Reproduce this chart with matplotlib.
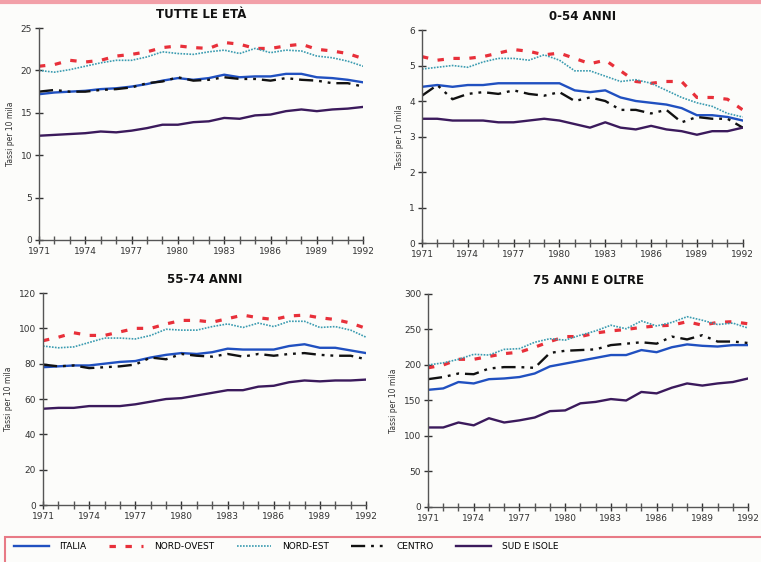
import numpy as np
import matplotlib
matplotlib.use('Agg')
import matplotlib.pyplot as plt
from matplotlib.lines import Line2D
from matplotlib.patches import Rectangle

years = np.arange(1971, 1993)
series_names = ['ITALIA', 'NORD-OVEST', 'NORD-EST', 'CENTRO', 'SUD E ISOLE']

# TUTTE LE ETA'
tutte = {
    'ITALIA': [17.2, 17.4, 17.5, 17.6, 17.8, 17.9, 18.1, 18.4, 18.8, 19.1, 18.9,
               19.1, 19.5, 19.2, 19.3, 19.3, 19.6, 19.6, 19.2, 19.1, 18.9, 18.6],
    'NORD-OVEST': [20.5, 20.7, 21.2, 21.0, 21.2, 21.7, 21.9, 22.2, 22.7, 22.9, 22.7,
                   22.6, 23.3, 23.1, 22.6, 22.6, 22.9, 23.1, 22.5, 22.3, 22.0, 21.4],
    'NORD-EST': [20.0, 19.8, 20.1, 20.5, 20.9, 21.2, 21.2, 21.6, 22.2, 22.0, 21.9,
                 22.2, 22.4, 22.0, 22.6, 22.1, 22.4, 22.3, 21.7, 21.5, 21.1, 20.5],
    'CENTRO': [17.5, 17.7, 17.5, 17.5, 17.7, 17.8, 18.0, 18.5, 18.7, 19.2, 18.8,
               18.9, 19.2, 19.0, 19.0, 18.8, 19.1, 18.9, 18.8, 18.5, 18.5, 18.1],
    'SUD E ISOLE': [12.3, 12.4, 12.5, 12.6, 12.8, 12.7, 12.9, 13.2, 13.6, 13.6, 13.9,
                    14.0, 14.4, 14.3, 14.7, 14.8, 15.2, 15.4, 15.2, 15.4, 15.5, 15.7],
}

# 0-54 ANNI
anni_0_54 = {
    'ITALIA': [4.4, 4.45, 4.4, 4.45, 4.45, 4.5, 4.5, 4.5, 4.5, 4.5, 4.3,
               4.25, 4.3, 4.1, 4.0, 3.95, 3.9, 3.8, 3.6, 3.6, 3.55, 3.45],
    'NORD-OVEST': [5.25, 5.15, 5.2, 5.2, 5.25, 5.35, 5.45, 5.4, 5.3, 5.35, 5.2,
                   5.05, 5.15, 4.85, 4.55, 4.5, 4.55, 4.55, 4.1, 4.1, 4.05, 3.75],
    'NORD-EST': [4.9, 4.95, 5.0, 4.95, 5.1, 5.2, 5.2, 5.15, 5.3, 5.15, 4.85,
                 4.85, 4.7, 4.55, 4.6, 4.5, 4.3, 4.1, 3.95, 3.85, 3.65, 3.55],
    'CENTRO': [4.15, 4.45, 4.05, 4.2, 4.25, 4.2, 4.3, 4.2, 4.15, 4.25, 4.0,
               4.1, 4.0, 3.75, 3.75, 3.65, 3.75, 3.4, 3.55, 3.5, 3.5, 3.25],
    'SUD E ISOLE': [3.5, 3.5, 3.45, 3.45, 3.45, 3.4, 3.4, 3.45, 3.5, 3.45, 3.35,
                    3.25, 3.4, 3.25, 3.2, 3.3, 3.2, 3.15, 3.05, 3.15, 3.15, 3.25],
}

# 55-74 ANNI
anni_55_74 = {
    'ITALIA': [78, 78.5, 79, 79, 80, 81, 81.5, 83.5, 85, 86, 85.5,
               86.5, 88.5, 88, 88, 88, 90, 91, 89, 89, 87.5, 86],
    'NORD-OVEST': [93, 95, 97.5, 96, 96, 98, 100, 100, 102.5, 104.5, 104.5,
                   103.5, 105.5, 107.5, 106, 105, 107, 107.5, 106, 105, 103, 100],
    'NORD-EST': [90, 89, 89.5, 92, 94.5, 94.5, 94, 96, 99.5, 99, 99,
                 101, 102.5, 100.5, 103, 101, 104, 104, 100.5, 101, 99, 95],
    'CENTRO': [79.5, 78.5, 79, 77.5, 78, 78.5, 79.5, 83.5, 82.5, 85.5, 84.5,
               84, 85.5, 84, 85.5, 84.5, 85.5, 86, 85, 84.5, 84.5, 82.5],
    'SUD E ISOLE': [54.5, 55, 55, 56, 56, 56, 57, 58.5, 60, 60.5, 62,
                    63.5, 65, 65, 67, 67.5, 69.5, 70.5, 70, 70.5, 70.5, 71],
}

# 75 ANNI E OLTRE
anni_75 = {
    'ITALIA': [165, 167, 176, 174, 180, 181, 183, 188, 198, 202, 206,
               210, 214, 214, 221, 218, 225, 229, 227, 226, 228, 228],
    'NORD-OVEST': [196, 200, 208, 208, 212, 216, 218, 225, 233, 240, 240,
                   245, 248, 250, 253, 255, 256, 261, 256, 260, 261, 258],
    'NORD-EST': [200, 203, 208, 215, 214, 222, 223, 232, 237, 235, 242,
                 248, 256, 251, 262, 255, 260, 268, 263, 257, 259, 252],
    'CENTRO': [180, 183, 188, 187, 195, 197, 197, 196, 217, 220, 221,
               222, 228, 230, 232, 230, 240, 236, 242, 233, 233, 231],
    'SUD E ISOLE': [112, 112, 119, 115, 125, 119, 122, 126, 135, 136, 146,
                    148, 152, 150, 162, 160, 168, 174, 171, 174, 176, 181],
}

styles = {
    'ITALIA': dict(color='#2050c0', lw=1.7, ls='-'),
    'NORD-OVEST': dict(color='#e8303a', lw=2.3, ls=(0, (2.0, 3.0))),
    'NORD-EST': dict(color='#3a9bb0', lw=1.2, ls=(0, (1.0, 0.8))),
    'CENTRO': dict(color='#111111', lw=1.7, ls=(0, (6, 2.5, 1.2, 2.5, 1.2, 2.5))),
    'SUD E ISOLE': dict(color='#3b1a5c', lw=1.7, ls='-'),
}

panels = [
    ('TUTTE LE ETÀ', tutte, 25, 5, [0.0512, 0.573, 0.426, 0.377]),
    ('0-54 ANNI', anni_0_54, 6, 1, [0.5545, 0.5676, 0.4215, 0.379]),
    ('55-74 ANNI', anni_55_74, 120, 20, [0.0565, 0.1014, 0.4245, 0.3772]),
    ('75 ANNI E OLTRE', anni_75, 300, 50, [0.5624, 0.0979, 0.4206, 0.379]),
]

fig = plt.figure(figsize=(7.61, 5.62), dpi=100)
fig.patch.set_facecolor('#fcfcfa')

handles = {}
for title, data, ymax, ystep, rect in panels:
    ax = fig.add_axes(rect)
    ax.set_facecolor('none')
    for name in series_names:
        ln, = ax.plot(years, data[name], label=name, **styles[name])
        handles[name] = ln
    ax.set_xlim(1971, 1992)
    ax.set_ylim(0, ymax)
    ax.set_xticks(years, minor=True)
    ax.set_xticks(np.arange(1971, 1993, 3))
    ax.set_yticks(np.arange(0, ymax + ystep, ystep))
    for s in ['top', 'right']:
        ax.spines[s].set_visible(False)
    for s in ['left', 'bottom']:
        ax.spines[s].set_color('#555555')
        ax.spines[s].set_linewidth(1.0)
    ax.tick_params(which='both', direction='inout', color='#555555', width=1.0)
    ax.tick_params(which='major', length=6, labelsize=6.5, colors='#333333', pad=2)
    ax.tick_params(which='minor', length=6)
    ax.set_title(title, fontsize=8.5, fontweight='bold', pad=7, color='#111111')
    ax.set_ylabel('Tassi per 10 mila', fontsize=5.5, color='#333333', labelpad=4)

# thin pink strip at the top of the page
fig.add_artist(Line2D([0, 1], [0.997, 0.997], color='#f2a0a8', lw=3, transform=fig.transFigure))

# legend box
fig.add_artist(Rectangle((0.007, -0.02), 1.0, 0.065, transform=fig.transFigure,
                         fill=False, edgecolor='#e87a86', lw=1.5))
leg = fig.legend([handles[n] for n in series_names], series_names,
                 loc='center left', bbox_to_anchor=(0.008, 0.028), ncol=5,
                 frameon=False, fontsize=6.5, handlelength=3.8, handletextpad=1.2,
                 columnspacing=2.5)

fig.savefig('out.png', dpi=100, facecolor=fig.get_facecolor())
